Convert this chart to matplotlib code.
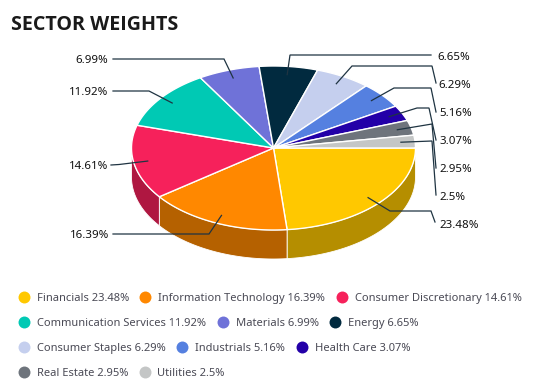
# -*- coding: utf-8 -*-
import numpy as np
import matplotlib
matplotlib.use('Agg')
import matplotlib.pyplot as plt
from matplotlib.patches import Polygon

plt.rcParams['font.family'] = ['Noto Sans', 'DejaVu Sans']

SECTORS = ['Financials', 'Information Technology', 'Consumer Discretionary',
           'Communication Services', 'Materials', 'Energy',
           'Consumer Staples', 'Industrials', 'Health Care',
           'Real Estate', 'Utilities']
WEIGHTS = [23.48, 16.39, 14.61, 11.92, 6.99, 6.65, 6.29, 5.16, 3.07, 2.95, 2.5]
COLORS = ['#FFC800', '#FF8800', '#F6215B', '#00C9B4', '#6F72D8', '#012A3F',
          '#C5CFEE', '#5580E0', '#2300A8', '#6E747C', '#C4C6C6']

# pie geometry, pixels
CX, CY = 273.5, 148
RX, RY = 142, 82
DEPTH = 29
LINE_COLOR = '#1F3442'

# leader line bends and label anchors, pixels
LEADERS = [
    [(390, 211), (431, 211), (435, 222)],
    [(209, 234), (113, 234)],
    [(119, 164.5), (111, 165)],
    [(149, 91), (113, 91)],
    [(224, 59), (113, 59)],
    [(290, 55), (431, 55)],
    [(352, 66), (432, 66), (436, 83)],
    [(394, 88), (431, 88), (436, 112)],
    [(417, 108), (429, 108), (436, 140)],
    [(432, 124), (436, 168)],
    [(432, 141), (436, 195)],
]
LABEL_POS = [(439, 224, 'left'), (109, 234, 'right'), (108, 165, 'right'),
             (108, 91, 'right'), (108, 59, 'right'), (437, 56, 'left'),
             (438, 84, 'left'), (439, 112, 'left'), (439, 140, 'left'),
             (439, 168, 'left'), (439, 196, 'left')]
# (circle x, text x, y) of each legend item
LEGEND_POS = [(24, 37, 297), (145, 158, 297), (342, 355, 297),
              (24, 37, 322), (223, 236, 322), (335, 348, 322),
              (24, 37, 347), (182, 195, 347), (302, 315, 347),
              (24, 37, 372), (145, 157, 372)]


def _ellipse(deg, scale=1.0, drop=0):
    t = np.radians(deg)
    return np.column_stack([CX + RX * scale * np.cos(t),
                            CY + drop + RY * scale * np.sin(t)])


def _darker(color, k=0.71):
    r, g, b = matplotlib.colors.to_rgb(color)
    return (r * k, g * k, b * k)


fig = plt.figure(figsize=(5.38, 3.92), dpi=100)
ax = fig.add_axes([0, 0, 1, 1])
ax.set_xlim(0, 538)
ax.set_ylim(392, 0)
ax.axis('off')

ends = np.cumsum(WEIGHTS) / sum(WEIGHTS) * 360
starts = np.concatenate([[0], ends[:-1]])

# front wall
for a, b, c in zip(starts, ends, COLORS):
    lo, hi = a, min(b, 180)
    if lo >= hi:
        continue
    arc = np.linspace(lo, hi, 60)
    pts = np.vstack([_ellipse(arc), _ellipse(arc[::-1], drop=DEPTH)])
    ax.add_patch(Polygon(pts, closed=True, fc=_darker(c), ec='white',
                         lw=0.6, zorder=2, joinstyle='round'))

# top face
for a, b, c in zip(starts, ends, COLORS):
    arc = np.linspace(a, b, 80)
    pts = np.vstack([[CX, CY], _ellipse(arc)])
    ax.add_patch(Polygon(pts, closed=True, fc=c, ec='white', lw=1.0,
                         zorder=3, joinstyle='round'))

# leader lines start inside the wedge at its middle angle
mids = (starts + ends) / 2
for mid, bends in zip(mids, LEADERS):
    p0 = _ellipse(np.array([mid]), scale=0.9)[0]
    xs = [p0[0]] + [p[0] for p in bends]
    ys = [p0[1]] + [p[1] for p in bends]
    ax.plot(xs, ys, color=LINE_COLOR, lw=0.9, zorder=4,
            solid_joinstyle='miter')

for w, (x, y, ha) in zip(WEIGHTS, LABEL_POS):
    ax.text(x, y, '%g%%' % w, ha=ha, va='center_baseline', fontsize=8.3,
            color='#111111', zorder=5)

ax.text(11, 22, 'SECTOR WEIGHTS', ha='left', va='center_baseline', fontsize=14.2,
        fontweight='bold', color='#1A1A1A', family=['Open Sans', 'DejaVu Sans'])

for name, w, c, (cx, tx, y) in zip(SECTORS, WEIGHTS, COLORS, LEGEND_POS):
    ax.plot([cx], [y], 'o', ms=8.6, color=c, mec='none')
    ax.text(tx, y, '%s %g%%' % (name, w), ha='left', va='center_baseline',
            fontsize=8.0, color='#4A4A55')

fig.savefig('out.png', dpi=100)
